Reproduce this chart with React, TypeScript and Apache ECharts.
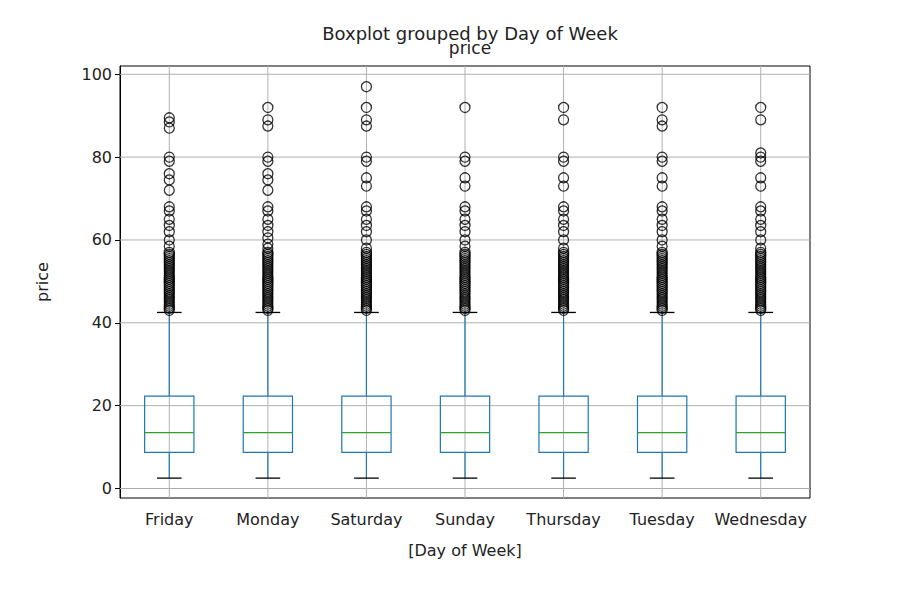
import * as echarts from 'echarts';
import { useEffect, useRef } from 'react';

const days = ['Friday', 'Monday', 'Saturday', 'Sunday', 'Thursday', 'Tuesday', 'Wednesday'];
// [low whisker, q1, median, q3, high whisker]
const boxStats = [
  [2.5, 8.7, 13.5, 22.3, 42.5],
  [2.5, 8.7, 13.5, 22.3, 42.5],
  [2.5, 8.7, 13.5, 22.3, 42.5],
  [2.5, 8.7, 13.5, 22.3, 42.5],
  [2.5, 8.7, 13.5, 22.3, 42.5],
  [2.5, 8.7, 13.5, 22.3, 42.5],
  [2.5, 8.7, 13.5, 22.3, 42.5],
];
const denseOutliers = [43, 43.5, 44, 44.5, 45, 45.5, 46, 46.5, 47, 47.5, 48, 48.5, 49, 49.5, 50, 50.5, 51, 51.5, 52, 52.5, 53, 53.5, 54, 54.5, 55, 55.5, 56, 56.5, 57];
const outliers = [
  [89.5, 88.5, 87, 80, 79, 76, 74.5, 72, 68, 67, 65, 63.5, 62, 60, 58.5],
  [92, 89, 87.5, 80, 79, 76, 74.5, 72, 68, 67, 65, 63.5, 62, 60.5, 59, 58],
  [97, 92, 89, 87.5, 80, 79, 75, 73, 68, 67, 65, 63.5, 62, 60, 58],
  [92, 80, 79, 75, 73, 68, 67, 65, 63.5, 62, 60, 58.5],
  [92, 89, 80, 79, 75, 73, 68, 67, 65, 63.5, 62, 60, 58],
  [92, 89, 87.5, 80, 79, 75, 73, 68, 67, 65, 63.5, 62, 60, 58.5],
  [92, 89, 81, 80, 79, 75, 73, 68, 67, 65, 63.5, 62, 60, 58],
];
const yTicks = [0, 20, 40, 60, 80, 100];
const Y_MIN = -2.3;
const Y_MAX = 102;

const font = 'DejaVu Sans';

export default function App() {
  const ref = useRef<HTMLDivElement | null>(null);

  useEffect(() => {
    if (!ref.current) return;
    const chart = echarts.init(ref.current, undefined, { renderer: 'svg' });

    const scatterData: number[][] = [];
    outliers.forEach((list, i) => {
      list.forEach((v) => scatterData.push([i, v]));
      denseOutliers.forEach((v) => scatterData.push([i, v]));
    });

    chart.setOption({
      animation: false,
      textStyle: { fontFamily: font },
      title: [
        { text: 'Boxplot grouped by Day of Week', left: 465, top: 19, textAlign: 'center', textStyle: { fontFamily: font, fontSize: 18, fontWeight: 'normal', color: '#222' } },
        { text: 'price', left: 465, top: 34, textAlign: 'center', textStyle: { fontFamily: font, fontSize: 17, fontWeight: 'normal', color: '#222' } },
      ],
      grid: { left: 120, right: 108, top: 66, bottom: 92, show: true, borderColor: '#000', borderWidth: 1, backgroundColor: 'transparent' },
      xAxis: {
        type: 'category',
        data: days,
        name: '[Day of Week]',
        nameLocation: 'middle',
        nameGap: 44,
        nameTextStyle: { fontFamily: font, fontSize: 16, color: '#222' },
        axisLine: { lineStyle: { color: '#000' } },
        axisTick: { alignWithLabel: true, lineStyle: { color: '#000' }, length: 5 },
        axisLabel: { fontFamily: font, fontSize: 16, color: '#222', margin: 13, interval: 0 },
        splitLine: { show: false },
      },
      yAxis: {
        type: 'value',
        min: Y_MIN,
        max: Y_MAX,
        name: 'price',
        nameLocation: 'middle',
        nameGap: 70,
        nameTextStyle: { fontFamily: font, fontSize: 16, color: '#222' },
        axisLine: { show: true, lineStyle: { color: '#000' } },
        axisTick: { show: true, lineStyle: { color: '#000' }, length: 5, customValues: yTicks },
        axisLabel: { fontFamily: font, fontSize: 16, color: '#222', customValues: yTicks },
        splitLine: { show: false },
      },
      series: [
        {
          type: 'custom',
          z: 1,
          data: days.map((_, i) => [i, Y_MIN, Y_MAX]),
          renderItem: (_p: any, api: any) => {
            const top = api.coord([api.value(0), Y_MAX]);
            const bot = api.coord([api.value(0), Y_MIN]);
            const children: any[] = [
              { type: 'line', shape: { x1: top[0], y1: top[1], x2: bot[0], y2: bot[1] }, style: { stroke: '#b0b0b0', lineWidth: 1 } },
            ];
            yTicks.forEach((t) => {
              if (api.value(0) !== 0) return;
              const l = api.coord([0, t]);
              const r = api.coord([days.length - 1, t]);
              const w = api.size([1, 0])[0];
              children.push({ type: 'line', shape: { x1: l[0] - w / 2, y1: l[1], x2: r[0] + w / 2, y2: r[1] }, style: { stroke: '#b0b0b0', lineWidth: 1 } });
            });
            return { type: 'group', children };
          },
        },
        {
          type: 'custom',
          z: 3,
          data: boxStats.map((s, i) => [i, ...s]),
          renderItem: (_p: any, api: any) => {
            const x = api.value(0);
            const w = api.size([1, 0])[0] * 0.5;
            const cw = w / 2;
            const p = (v: number) => api.coord([x, v]);
            const lo = p(api.value(1));
            const q1 = p(api.value(2));
            const md = p(api.value(3));
            const q3 = p(api.value(4));
            const hi = p(api.value(5));
            const cx = lo[0];
            const blue = '#1f77b4';
            return {
              type: 'group',
              children: [
                { type: 'line', shape: { x1: cx, y1: lo[1], x2: cx, y2: q1[1] }, style: { stroke: blue, lineWidth: 1.2 } },
                { type: 'line', shape: { x1: cx, y1: q3[1], x2: cx, y2: hi[1] }, style: { stroke: blue, lineWidth: 1.2 } },
                { type: 'rect', shape: { x: cx - w / 2, y: q3[1], width: w, height: q1[1] - q3[1] }, style: { fill: 'none', stroke: blue, lineWidth: 1.2 } },
                { type: 'line', shape: { x1: cx - w / 2, y1: md[1], x2: cx + w / 2, y2: md[1] }, style: { stroke: '#2ca02c', lineWidth: 1.2 } },
                { type: 'line', shape: { x1: cx - cw / 2, y1: lo[1], x2: cx + cw / 2, y2: lo[1] }, style: { stroke: '#000', lineWidth: 1.3 } },
                { type: 'line', shape: { x1: cx - cw / 2, y1: hi[1], x2: cx + cw / 2, y2: hi[1] }, style: { stroke: '#000', lineWidth: 1.3 } },
              ],
            };
          },
        },
        {
          type: 'scatter',
          z: 4,
          data: scatterData,
          symbol: 'circle',
          symbolSize: 10,
          itemStyle: { color: 'none', borderColor: '#000', borderWidth: 1.3 },
        },
      ],
    });

    return () => chart.dispose();
  }, []);

  return <div ref={ref} style={{ position: 'fixed', left: 0, top: 0, width: 918, height: 590, background: '#fff' }} />;
}
